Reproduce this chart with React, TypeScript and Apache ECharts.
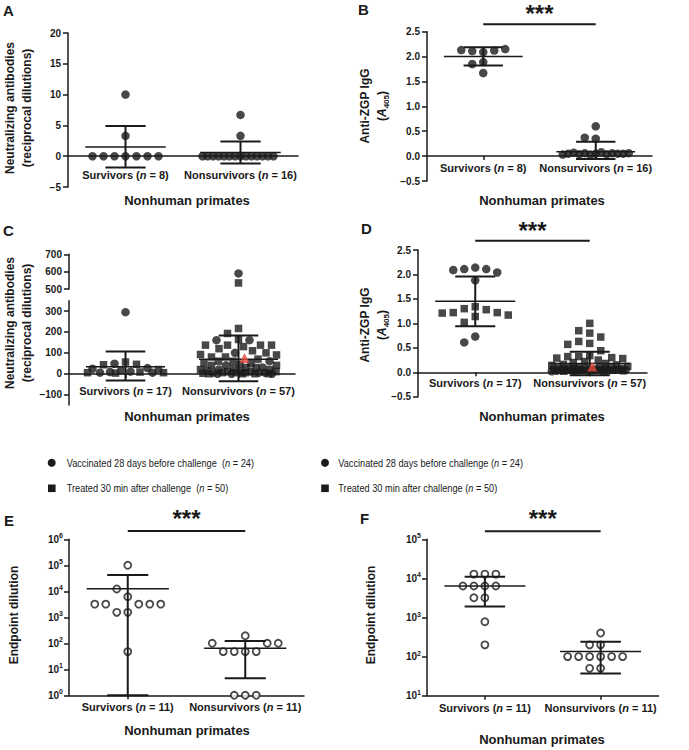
import React, { useEffect, useRef } from "react";
import * as echarts from "echarts";

const INK = "#1a1a1a";
const RED = "#e5493c";
const FF = "'Liberation Sans', Arial, Helvetica, sans-serif";

// ---------- data ----------
const categories = ["Survivors", "Nonsurvivors"];
const nTop = [8, 16];
const nMid = [17, 57];
const nBottom = [11, 11];

// Panel A
const aTicks = [-5, 0, 5, 10, 15, 20];
const aSurvivors = [0, 0, 0, 0, 0, 0, 0, 3.3, 10];
const aNonsurvivors = [6.7, 3.3, 0, 0, 0, 0, 0, 0, 0, 0, 0, 0, 0, 0, 0, 0];
const aMean = [1.5, 0.6];
const aSdLow = [-1.85, -1.2];
const aSdHigh = [4.9, 2.4];

// Panel B
const bTicks = [-0.5, 0, 0.5, 1, 1.5, 2, 2.5];
const bSurvivors = [1.67, 2.09, 2.11, 2.12, 2.13, 2.15, 1.89, 1.85];
const bNonsurvivors = [0.6, 0.35, 0.37, 0.05, 0.06, 0.04, 0.07, 0.05, 0.03, 0.06, 0.08, 0.04, 0.05, 0.06, 0.03, 0.05];
const bMean = [2.0, 0.09];
const bSdLow = [1.82, -0.06];
const bSdHigh = [2.19, 0.29];
const bSig = [2.65, 2.98];

// Panel C (broken axis)
const cUpperTicks = [500, 600, 700];
const cLowerTicks = [-100, 0, 100, 200, 300];
const cLowerRange = [-150, 350];
const cSurvCircles = [295, 48, 27, 24, 10, 8, 5, 5];
const cSurvSquares = [56, 45, 43, 20, 15, 8, 5, 5, 3];
const cNonCircles = [590, 161, 161, 100, 60, 40, 30, 20, 10, 10, 5, 5, 5, 0, 0, 0];
const cNonSquares = [535, 217, 193, 164, 137, 137, 137, 137, 130, 120, 110, 100, 92, 90, 80, 80, 70, 60, 60, 50, 50, 45, 40, 40, 30, 30, 25, 20, 20, 15, 10, 10, 5, 5, 5, 0, 0, 0, 0, 2];
const cNonTriangle = [75];
const cMean = [33, 69];
const cSdLow = [-33, -36];
const cSdHigh = [106, 183];

// Panel D
const dTicks = [-0.5, 0, 0.5, 1, 1.5, 2, 2.5];
const dSurvCircles = [2.14, 2.11, 2.11, 2.09, 2.04, 1.88, 0.73, 0.61];
const dSurvSquares = [1.34, 1.3, 1.28, 1.22, 1.22, 1.21, 1.17, 1.14, 1.02];
const dNonCircles = [0.1, 0.09, 0.08, 0.07, 0.06, 0.06, 0.05, 0.05, 0.05, 0.04, 0.04, 0.04, 0.03, 0.03, 0.02, 0.02];
const dNonSquares = [1.0, 0.85, 0.8, 0.72, 0.63, 0.59, 0.57, 0.44, 0.34, 0.32, 0.32, 0.3, 0.29, 0.28, 0.25, 0.22, 0.2, 0.18, 0.16, 0.15, 0.14, 0.12, 0.1, 0.1, 0.09, 0.08, 0.08, 0.07, 0.06, 0.06, 0.05, 0.05, 0.05, 0.04, 0.04, 0.04, 0.03, 0.03, 0.02, 0.02];
const dNonTriangle = [0.12];
const dMean = [1.45, 0.18];
const dSdLow = [0.94, -0.06];
const dSdHigh = [1.96, 0.42];
const dSig = [2.69, 2.96];

// Panel E (log)
const eDecades = [0, 1, 2, 3, 4, 5, 6];
const eSurvivors = [6200, 1550, 1550, 48, 100000, 12300, 3200, 3200, 3200, 3200, 3200];
const eNonsurvivors = [195, 48, 48, 48, 48, 100, 100, 100, 1, 1, 1];
const eMean = [12600, 64];
const eSdLow = [1, 4.5];
const eSdHigh = [42600, 123];
const eSig = [2.1e6, 8.6e6];

// Panel F (log)
const fDecades = [1, 2, 3, 4, 5];
const fSurvivors = [200, 780, 3200, 3200, 12900, 12900, 12900, 6400, 6400, 6400, 6400];
const fNonsurvivors = [100, 100, 100, 100, 100, 100, 400, 200, 200, 50, 50];
const fMean = [6400, 135];
const fSdLow = [1900, 37];
const fSdHigh = [11000, 240];
const fSig = [1.6e5, 4.2e5];

// ---------- layout ----------
const L: any = {
  A: { left: 68, top: 33, width: 230, height: 154 },
  B: { left: 427, top: 31.7, width: 225, height: 149.3 },
  CU: { left: 69, top: 254.3, width: 226, height: 34.7 },
  CL: { left: 69, top: 300.7, width: 226, height: 104.3 },
  D: { left: 418, top: 250, width: 229, height: 146.7 },
  E: { left: 69, top: 539.3, width: 235, height: 156 },
  F: { left: 427, top: 539.3, width: 231.5, height: 156.4 },
};
const MEAN_HALF = 0.35;
const CAP_HALF = 0.175;
const STEP = 11;
const DIST = 9.5;
const MAXH = 38;
const STAR_FS = 24;

const KIND: any = {
  dot: { symbol: "circle", symbolSize: 8.5, itemStyle: { color: INK }, z: 2 },
  sq: { symbol: "rect", symbolSize: 7.5, itemStyle: { color: INK }, z: 2 },
  tri: { symbol: "triangle", symbolSize: 10, itemStyle: { color: RED }, z: 6 },
  ring: { symbol: "circle", symbolSize: 7, itemStyle: { color: "#fff", borderColor: INK, borderWidth: 1.8 }, z: 2 },
};

const linY = (g: any, min: number, max: number) => (v: number) => g.top + (g.height * (max - v)) / (max - min);
const logY = (g: any, e0: number, e1: number) => (v: number) => g.top + (g.height * (e1 - Math.log10(v))) / (e1 - e0);

type Pt = { v: number; kind: string };

function swarm(pts: Pt[], toY: (v: number) => number) {
  const placed: { x: number; y: number }[] = [];
  return pts.map((p) => {
    const y = toY(p.v);
    const free = (x: number) => placed.every((q) => (q.x - x) ** 2 + (q.y - y) ** 2 >= DIST * DIST);
    let off: number | null = null;
    for (let k = 0; k * STEP <= MAXH && off === null; k++) {
      const cands = k === 0 ? [0] : [-k * STEP, k * STEP];
      for (const c of cands) {
        if (off === null && free(c)) off = c;
      }
    }
    if (off === null) {
      let best = 0;
      let bestScore = -1;
      for (let x = -MAXH; x <= MAXH + 1e-9; x += 0.5) {
        let s = Infinity;
        for (const q of placed) s = Math.min(s, Math.hypot(q.x - x, q.y - y));
        if (s > bestScore + 1e-6 || (Math.abs(s - bestScore) <= 1e-6 && Math.abs(x) < Math.abs(best))) {
          best = x;
          bestScore = s;
        }
      }
      off = best;
    }
    placed.push({ x: off, y });
    return { ...p, off };
  });
}

const asKind = (arr: number[], kind: string): Pt[] => arr.map((v) => ({ v, kind }));
const merged = (...parts: Pt[][]) => ([] as Pt[]).concat(...parts).sort((a, b) => b.v - a.v);

const catRich = {
  b: { fontFamily: FF, fontWeight: "bold", fontSize: 11, color: INK, lineHeight: 12 },
  i: { fontFamily: FF, fontWeight: "bold", fontStyle: "italic", fontSize: 11, color: INK, lineHeight: 12 },
};
const minus = (s: string) => s.replace("-", "\u2212");
const intFmt = (v: number) => minus(String(Math.round(v)));
const decFmt = (v: number) => minus(v.toFixed(1));

const axisLineStyle = { color: INK, width: 1.5 };
const yLabel = { color: INK, fontFamily: FF, fontWeight: "bold", fontSize: 10, margin: 7 };

function linAxis(gi: number, ticks: number[], fmt: (v: number) => string) {
  return {
    type: "value",
    gridIndex: gi,
    min: ticks[0],
    max: ticks[ticks.length - 1],
    interval: ticks[1] - ticks[0],
    splitLine: { show: false },
    axisLine: { show: true, onZero: false, lineStyle: axisLineStyle },
    axisTick: { show: true, length: 5, lineStyle: axisLineStyle },
    axisLabel: { ...yLabel, formatter: fmt },
  };
}
function logAxis(gi: number, decades: number[]) {
  return {
    type: "log",
    logBase: 10,
    gridIndex: gi,
    min: Math.pow(10, decades[0]),
    max: Math.pow(10, decades[decades.length - 1]),
    splitLine: { show: false },
    minorTick: { show: false },
    axisLine: { show: true, onZero: false, lineStyle: axisLineStyle },
    axisTick: { show: true, length: 5, lineStyle: axisLineStyle },
    axisLabel: {
      ...yLabel,
      margin: 6,
      formatter: (v: number) => `{b|10}{s|${Math.round(Math.log10(v))}}`,
      rich: {
        b: { fontFamily: FF, fontWeight: "bold", fontSize: 10, color: INK, lineHeight: 14 },
        s: { fontFamily: FF, fontWeight: "bold", fontSize: 7, color: INK, lineHeight: 8, verticalAlign: "top" },
      },
    },
  };
}

const seg = (a: number[], b: number[], w: number) => ({
  type: "line",
  shape: { x1: a[0], y1: a[1], x2: b[0], y2: b[1] },
  style: { stroke: INK, lineWidth: w },
});

const errRender = (_p: any, api: any) => {
  const c = api.value(0);
  const m = api.value(1);
  const lo = api.value(2);
  const hi = api.value(3);
  const P = (x: number, y: number) => api.coord([x, y]);
  return {
    type: "group",
    children: [
      seg(P(c, lo), P(c, hi), 2),
      seg(P(c - CAP_HALF, lo), P(c + CAP_HALF, lo), 2),
      seg(P(c - CAP_HALF, hi), P(c + CAP_HALF, hi), 2),
      seg(P(c - MEAN_HALF, m), P(c + MEAN_HALF, m), 1.5),
    ],
  };
};

const sigRender = (_p: any, api: any) => {
  const yl = api.value(1);
  const ys = api.value(2);
  const p0 = api.coord([0, yl]);
  const p1 = api.coord([1, yl]);
  const ps = api.coord([0.5, ys]);
  // asterisk glyphs sit high in the em box: place the box so the glyph centre lands on ps
  const top = Math.max(1, ps[1] - 0.36 * STAR_FS);
  return {
    type: "group",
    children: [
      seg(p0, p1, 2),
      {
        type: "text",
        x: ps[0],
        y: top,
        style: { text: "***", fill: INK, fontFamily: FF, fontWeight: "bold", fontSize: STAR_FS, align: "center", verticalAlign: "top" },
      },
    ],
  };
};

function buildOption() {
  const gridList = [L.A, L.B, L.CU, L.CL, L.D, L.E, L.F];
  // category labels are laid out from each grid's bottom edge
  const labelMargins = [-18, -19, 0, -20, -19.4, 6, 6.6];
  const nByGrid = [nTop, nTop, nMid, nMid, nMid, nBottom, nBottom];

  const grid = gridList.map((g) => ({ left: g.left, top: g.top, width: g.width, height: g.height }));
  const xAxis: any[] = [];
  gridList.forEach((_g, i) => {
    xAxis.push({
      type: "category",
      gridIndex: i,
      data: categories,
      boundaryGap: true,
      position: "bottom",
      show: i !== 2,
      axisLine: { show: true, onZero: true, lineStyle: axisLineStyle },
      axisTick: { show: true, alignWithLabel: true, length: 4, lineStyle: axisLineStyle },
      axisLabel: {
        show: true,
        interval: 0,
        margin: labelMargins[i],
        formatter: (val: string, idx: number) => `{b|${val} (}{i|n}{b| = ${nByGrid[i][idx]})}`,
        rich: catRich,
      },
      splitLine: { show: false },
    });
    xAxis.push({ type: "value", gridIndex: i, min: -0.5, max: 1.5, show: false, position: "top" });
  });

  const cLower: any = linAxis(3, cLowerTicks, intFmt);
  cLower.min = cLowerRange[0];
  cLower.max = cLowerRange[1];
  delete cLower.interval;
  cLower.axisLabel = { ...cLower.axisLabel, customValues: cLowerTicks };
  cLower.axisTick = { ...cLower.axisTick, customValues: cLowerTicks };

  const yAxis = [
    linAxis(0, aTicks, intFmt),
    linAxis(1, bTicks, decFmt),
    linAxis(2, cUpperTicks, intFmt),
    cLower,
    linAxis(4, dTicks, decFmt),
    logAxis(5, eDecades),
    logAxis(6, fDecades),
  ];

  const series: any[] = [];
  const buckets: Record<string, number[][]> = {};
  const addPanel = (
    groups: Pt[][],
    toY: (v: number) => number,
    width: number,
    route: (v: number) => number
  ) => {
    groups.forEach((pts, cat) => {
      swarm(pts, toY).forEach((p: any) => {
        const gi = route(p.v);
        const key = `${gi}|${p.kind}`;
        (buckets[key] = buckets[key] || []).push([cat + p.off / (width / 2), p.v]);
      });
    });
  };

  addPanel([asKind(aSurvivors, "dot"), asKind(aNonsurvivors, "dot")], linY(L.A, -5, 20), L.A.width, () => 0);
  addPanel([asKind(bSurvivors, "dot"), asKind(bNonsurvivors, "dot")], linY(L.B, -0.5, 2.5), L.B.width, () => 1);
  const cY = (v: number) => (v >= 450 ? linY(L.CU, 500, 700)(v) : linY(L.CL, cLowerRange[0], cLowerRange[1])(v));
  addPanel(
    [
      merged(asKind(cSurvCircles, "dot"), asKind(cSurvSquares, "sq")),
      merged(asKind(cNonCircles, "dot"), asKind(cNonSquares, "sq"), asKind(cNonTriangle, "tri")),
    ],
    cY,
    L.CL.width,
    (v) => (v >= 450 ? 2 : 3)
  );
  addPanel(
    [
      merged(asKind(dSurvCircles, "dot"), asKind(dSurvSquares, "sq")),
      merged(asKind(dNonCircles, "dot"), asKind(dNonSquares, "sq"), asKind(dNonTriangle, "tri")),
    ],
    linY(L.D, -0.5, 2.5),
    L.D.width,
    () => 4
  );
  addPanel([asKind(eSurvivors, "ring"), asKind(eNonsurvivors, "ring")], logY(L.E, 0, 6), L.E.width, () => 5);
  addPanel([asKind(fSurvivors, "ring"), asKind(fNonsurvivors, "ring")], logY(L.F, 1, 5), L.F.width, () => 6);

  Object.keys(buckets).forEach((key) => {
    const [gs, kind] = key.split("|");
    const gi = Number(gs);
    series.push({
      type: "scatter",
      xAxisIndex: gi * 2 + 1,
      yAxisIndex: gi,
      data: buckets[key],
      silent: true,
      ...KIND[kind],
    });
  });

  const stats: [number, number[], number[], number[]][] = [
    [0, aMean, aSdLow, aSdHigh],
    [1, bMean, bSdLow, bSdHigh],
    [3, cMean, cSdLow, cSdHigh],
    [4, dMean, dSdLow, dSdHigh],
    [5, eMean, eSdLow, eSdHigh],
    [6, fMean, fSdLow, fSdHigh],
  ];
  stats.forEach(([gi, m, lo, hi]) => {
    series.push({
      type: "custom",
      xAxisIndex: gi * 2 + 1,
      yAxisIndex: gi,
      data: [0, 1].map((c) => [c, m[c], lo[c], hi[c]]),
      encode: { x: 0, y: [1, 2, 3] },
      renderItem: errRender,
      clip: false,
      silent: true,
      z: 4,
    });
  });

  const sigs: [number, number[]][] = [
    [1, bSig],
    [4, dSig],
    [5, eSig],
    [6, fSig],
  ];
  sigs.forEach(([gi, s]) => {
    series.push({
      type: "custom",
      xAxisIndex: gi * 2 + 1,
      yAxisIndex: gi,
      data: [[0.5, s[0], s[1]]],
      encode: { x: 0, y: [1, 2] },
      renderItem: sigRender,
      clip: false,
      silent: true,
      z: 4,
    });
  });

  const txt = (x: number, y: number, style: any, extra: any = {}) => ({
    type: "text",
    x,
    y,
    silent: true,
    ...extra,
    style: { fill: INK, fontFamily: FF, ...style },
  });
  const letter = (t: string, x: number, y: number) =>
    txt(x, y, { text: t, fontWeight: "bold", fontSize: 15, align: "left", verticalAlign: "middle" });
  const xTitle = (x: number, y: number) =>
    txt(x, y, { text: "Nonhuman primates", fontWeight: "bold", fontSize: 13, align: "center", verticalAlign: "middle" });
  const neutTitle = (x: number, y: number) =>
    txt(
      x,
      y,
      {
        text: "Neutralizing antibodies\n(reciprocal dilutions)",
        fontWeight: "bold",
        fontSize: 12,
        lineHeight: 17,
        align: "center",
        verticalAlign: "middle",
      },
      { rotation: Math.PI / 2 }
    );
  const igTitle = (x: number, y: number) =>
    txt(
      x,
      y,
      {
        text: "{t|Anti-ZGP IgG}\n{t|(}{ti|A}{sub|405}{t|)}",
        align: "center",
        verticalAlign: "middle",
        rich: {
          t: { fill: INK, fontFamily: FF, fontWeight: "bold", fontSize: 12, lineHeight: 17 },
          ti: { fill: INK, fontFamily: FF, fontWeight: "bold", fontStyle: "italic", fontSize: 12, lineHeight: 17 },
          sub: { fill: INK, fontFamily: FF, fontWeight: "bold", fontSize: 8, lineHeight: 9, verticalAlign: "bottom" },
        },
      },
      { rotation: Math.PI / 2 }
    );
  const endTitle = (x: number, y: number) =>
    txt(
      x,
      y,
      { text: "Endpoint dilution", fontWeight: "bold", fontSize: 12, align: "center", verticalAlign: "middle" },
      { rotation: Math.PI / 2 }
    );
  const legRich = {
    r: { fill: INK, fontFamily: FF, fontSize: 11.5 },
    i: { fill: INK, fontFamily: FF, fontSize: 11.5, fontStyle: "italic" },
  };
  const legText = (x: number, y: number, s: string) =>
    txt(x, y, { text: s, rich: legRich, align: "left", verticalAlign: "middle" }, { scaleX: 0.8 });

  const graphic = [
    letter("A", 3, 10),
    letter("B", 358, 9),
    letter("C", 3, 230),
    letter("D", 361, 228),
    letter("E", 4, 520.5),
    letter("F", 360, 518.5),
    neutTitle(18.5, 108),
    igTitle(373.5, 106),
    neutTitle(18.5, 323),
    igTitle(373.5, 325),
    endTitle(13.5, 615),
    endTitle(371, 615),
    xTitle(187, 200),
    xTitle(542, 200),
    xTitle(187, 416.7),
    xTitle(542, 416.7),
    xTitle(187, 730),
    xTitle(542, 739.3),
    { type: "circle", silent: true, shape: { cx: 51.7, cy: 462.7, r: 4 }, style: { fill: INK } },
    { type: "rect", silent: true, shape: { x: 48, y: 484.5, width: 7.6, height: 7.6 }, style: { fill: INK } },
    { type: "circle", silent: true, shape: { cx: 325, cy: 462.7, r: 4 }, style: { fill: INK } },
    { type: "rect", silent: true, shape: { x: 321.2, y: 484.5, width: 7.6, height: 7.6 }, style: { fill: INK } },
    legText(66.7, 462.7, "{r|Vaccinated 28 days before challenge  (}{i|n}{r| = 24)}"),
    legText(66.7, 488.3, "{r|Treated 30 min after challenge  (}{i|n}{r| = 50)}"),
    legText(338.3, 462.7, "{r|Vaccinated 28 days before challenge (}{i|n}{r| = 24)}"),
    legText(338.3, 488.3, "{r|Treated 30 min after challenge (}{i|n}{r| = 50)}"),
  ];

  return {
    animation: false,
    backgroundColor: "#ffffff",
    textStyle: { fontFamily: FF },
    grid,
    xAxis,
    yAxis,
    series,
    graphic,
  };
}

export default function App() {
  const ref = useRef<HTMLDivElement>(null);
  useEffect(() => {
    if (!ref.current) return;
    const chart = echarts.init(ref.current, null, { renderer: "svg" });
    chart.setOption(buildOption() as any);
    return () => chart.dispose();
  }, []);
  return (
    <div
      ref={ref}
      style={{ position: "absolute", left: 0, top: 0, width: 689, height: 750, background: "#fff" }}
    />
  );
}
